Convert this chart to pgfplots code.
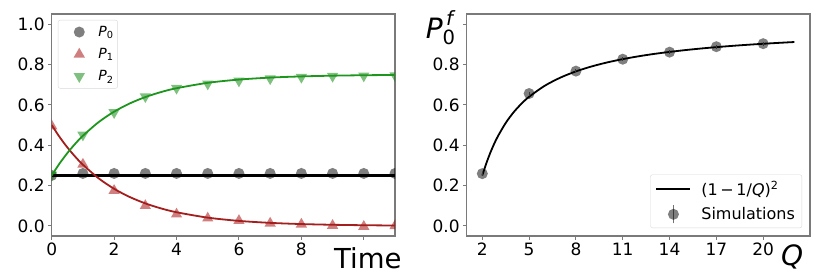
\documentclass[border=0pt]{standalone}
\usepackage{fontspec}
\setmainfont{DejaVu Sans}
\usepackage{amsmath}
\usepackage{pgfplots}
\pgfplotsset{compat=1.18}
\definecolor{frame}{HTML}{7A7A7A}
\definecolor{redline}{HTML}{A51E1E}
\definecolor{redmark}{HTML}{A00000}
\definecolor{greenline}{HTML}{1E961E}
\definecolor{greenmark}{HTML}{008000}
\tikzset{mk/.style={draw opacity=0, fill=#1, fill opacity=0.5}}
\pgfplotsset{
  base/.style={
    scale only axis, width=343.3pt, height=222pt, anchor=south west,
    axis line style={draw=frame, line width=1.2pt},
    tick align=outside, major tick length=3.5pt,
    tick style={draw=frame, line width=1pt},
    tick pos=left,
    tick label style={font=\fontsize{17}{20}\selectfont},
    /pgf/number format/assume math mode=true,
    clip marker paths=true,
  },
  mklegend/.style={legend image code/.code={\path (0pt,-6pt) rectangle (36pt,6pt); \draw[##1] plot coordinates {(19pt,0pt)};}},
}
\begin{document}
\begin{tikzpicture}
\useasboundingbox (0pt,0pt) rectangle (830pt,277pt);
% ---------------- left panel
\begin{axis}[base, at={(51.7pt,41pt)},
  xmin=0, xmax=11, ymin=-0.05, ymax=1.05,
  xtick={0,2,4,6,8,10}, xticklabels={0,2,4,6,8,{}},
  ytick={0,0.2,0.4,0.6,0.8,1.0}, yticklabels={0.0,0.2,0.4,0.6,0.8,1.0},
  xlabel={Time},
  xlabel style={at={(rel axis cs:0.921,0)}, anchor=base, yshift=-32pt, font=\fontsize{27.5}{30}\selectfont},
  legend style={at={(0.018,0.973)}, anchor=north west, draw=black!15, rounded corners=2pt,
    font=\fontsize{14}{16}\selectfont, row sep=6.5pt, inner xsep=2pt, inner ysep=4pt},
  legend cell align=left,
]
\addplot[only marks, draw opacity=0, mark=*, mark size=5.5pt, mark options={mk=black}, mklegend]
  coordinates {(0,0.25) (1,0.26) (2,0.26) (3,0.26) (4,0.26) (5,0.26) (6,0.26) (7,0.26) (8,0.26) (9,0.26) (10,0.26) (11,0.26)};
\addlegendentry{\textit{P}\textsubscript{0}}
\addplot[only marks, draw opacity=0, mark=triangle*, mark size=6.5pt, mark options={mk=redmark}, mklegend]
  coordinates {(0,0.495) (1,0.305) (2,0.175) (3,0.100) (4,0.058) (5,0.038) (6,0.026) (7,0.013) (8,0.008) (9,0.002) (10,-0.003) (11,0.000)};
\addlegendentry{\textit{P}\textsubscript{1}}
\addplot[only marks, draw opacity=0, mark=triangle*, mark size=6.5pt, mark options={mk=greenmark, rotate=180}, mklegend]
  coordinates {(0,0.253) (1,0.451) (2,0.562) (3,0.641) (4,0.683) (5,0.704) (6,0.719) (7,0.730) (8,0.737) (9,0.742) (10,0.744) (11,0.745)};
\addlegendentry{\textit{P}\textsubscript{2}}
\addplot[forget plot, draw=black, line width=2.1pt] coordinates {(0,0.25) (5.5,0.25) (11,0.25)};
\addplot[forget plot, redline, line width=1.8pt, smooth] coordinates {
 (0,0.5) (0.25,0.4412) (0.5,0.3894) (0.75,0.3436) (1,0.3033) (1.5,0.2362) (2,0.1839) (2.5,0.1433)
 (3,0.1116) (3.5,0.0869) (4,0.0677) (5,0.0410) (6,0.0249) (7,0.0151) (8,0.0092) (9,0.0056) (10,0.0034) (11,0.0020)};
\addplot[forget plot, greenline, line width=1.8pt, smooth] coordinates {
 (0,0.25) (0.25,0.3088) (0.5,0.3606) (0.75,0.4064) (1,0.4467) (1.5,0.5138) (2,0.5661) (2.5,0.6067)
 (3,0.6384) (3.5,0.6631) (4,0.6823) (5,0.7090) (6,0.7251) (7,0.7349) (8,0.7408) (9,0.7444) (10,0.7466) (11,0.7480)};
\end{axis}
% ---------------- right panel
\begin{axis}[base, at={(466.7pt,41pt)},
  xmin=1, xmax=23, ymin=-0.05, ymax=1.05,
  xtick={2,5,8,11,14,17,20}, xticklabels={2,5,8,11,14,17,20},
  ytick={0,0.2,0.4,0.6,0.8,1.0}, yticklabels={0.0,0.2,0.4,0.6,0.8,{}},
  xlabel={\textit{Q}},
  xlabel style={at={(rel axis cs:0.948,0)}, anchor=base, yshift=-29pt, font=\fontsize{28}{30}\selectfont},
  ylabel={$\textit{P}^{\,\textit{f}}_{\text{0}}$},
  ylabel style={rotate=-90, at={(rel axis cs:0,1)}, anchor=base, xshift=-26pt, yshift=-24pt, font=\fontsize{28}{30}\selectfont},
  legend style={at={(0.977,0.036)}, anchor=south east, draw=black!15, rounded corners=2pt,
    font=\fontsize{16}{18}\selectfont, row sep=6pt, inner xsep=5pt, inner ysep=4pt},
  legend cell align=left,
]
\addplot[black, line width=1.8pt, smooth,
  legend image code/.code={\draw[black, line width=1.8pt] (0pt,0pt) -- (34pt,0pt);}] coordinates {
 (2,0.25) (2.25,0.3086) (2.5,0.36) (2.75,0.4050) (3,0.4444) (3.5,0.5102) (4,0.5625) (4.5,0.6049)
 (5,0.64) (6,0.6944) (7,0.7347) (8,0.7656) (9,0.7901) (10,0.81) (11,0.8264) (12,0.8403) (13,0.8521)
 (14,0.8622) (15,0.8711) (16,0.8789) (17,0.8858) (18,0.8920) (19,0.8975) (20,0.9025) (21,0.9070) (22,0.9112)};
\addlegendentry{\hspace{8pt}(1\,−\,1/\textit{Q})\textsuperscript{2}}
\addplot[only marks, draw opacity=0, mark=*, mark size=5.5pt, mark options={mk=black},
  legend image code/.code={\draw[draw=black!55, draw opacity=1, line width=1pt] (17pt,-9pt) -- (17pt,9pt); \fill[black, fill opacity=0.5] (17pt,0pt) circle (5.5pt);},
  error bars/.cd, y dir=both, y explicit, error bar style={black!55, draw opacity=1, line width=1pt}, error mark=none]
  coordinates {(2,0.259) +- (0,0.01) (5,0.656) +- (0,0.01) (8,0.767) +- (0,0.01) (11,0.826) +- (0,0.01)
               (14,0.861) +- (0,0.01) (17,0.888) +- (0,0.01) (20,0.903) +- (0,0.01)};
\addlegendentry{\hspace{8pt}Simulations}
\end{axis}
\end{tikzpicture}
\end{document}
